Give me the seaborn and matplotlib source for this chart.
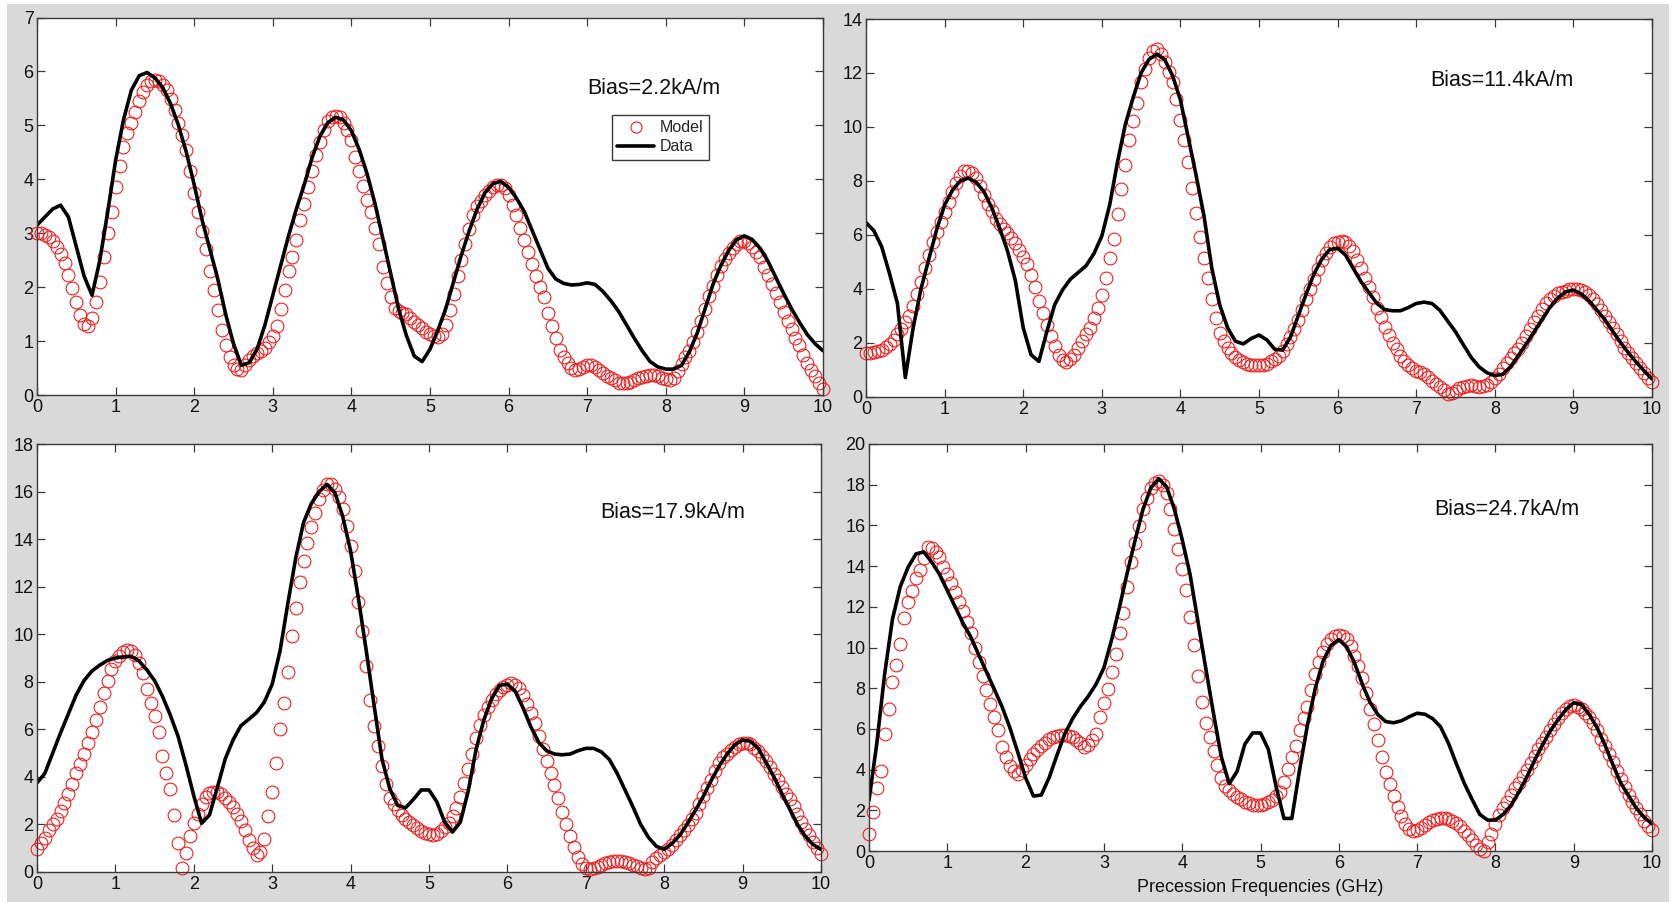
import numpy as np
import matplotlib
matplotlib.use("Agg")
import matplotlib.pyplot as plt
from matplotlib.patches import Rectangle
import seaborn as sns

# ---------------------------------------------------------------------------
# Spectra of the precession response (0-10 GHz) at four bias fields.
# "Data" is sampled every 0.1 GHz, "Model" every 0.05 GHz.
# ---------------------------------------------------------------------------
bias_labels = ["Bias=2.2kA/m", "Bias=11.4kA/m", "Bias=17.9kA/m", "Bias=24.7kA/m"]
y_limits = [7, 14, 18, 20]
y_steps = [1, 2, 2, 2]
x_ticks = [0, 1, 2, 3, 4, 5, 6, 7, 8, 9, 10]
x_label = "Precession Frequencies (GHz)"

data_22 = [3.15, 3.3, 3.45, 3.52, 3.3, 2.75, 2.2, 1.85, 2.5, 3.4,
           4.35, 5.1, 5.65, 5.92, 5.98, 5.88, 5.7, 5.4, 5.0, 4.5,
           3.9, 3.25, 2.7, 2.15, 1.5, 0.95, 0.55, 0.6, 0.85, 1.3,
           1.85, 2.4, 2.95, 3.45, 3.9, 4.4, 4.8, 5.05, 5.15, 5.1,
           4.9, 4.55, 4.1, 3.55, 2.9, 2.25, 1.6, 1.1, 0.72, 0.62,
           0.85, 1.2, 1.6, 2.1, 2.6, 3.05, 3.45, 3.75, 3.92, 3.96,
           3.85, 3.65, 3.4, 3.05, 2.7, 2.35, 2.15, 2.07, 2.04, 2.05,
           2.08, 2.05, 1.92, 1.75, 1.55, 1.3, 1.05, 0.82, 0.62, 0.52,
           0.48, 0.48, 0.55, 0.8, 1.15, 1.6, 2.05, 2.4, 2.68, 2.88,
           2.95, 2.88, 2.72, 2.48, 2.18, 1.88, 1.6, 1.35, 1.12, 0.95,
           0.82]

model_22 = [3.00, 3.00, 2.97, 2.93, 2.85, 2.75, 2.62, 2.44, 2.22, 1.98,
            1.72, 1.48, 1.32, 1.28, 1.42, 1.72, 2.1, 2.55, 3.0, 3.4,
            3.85, 4.25, 4.6, 4.85, 5.05, 5.25, 5.45, 5.62, 5.75, 5.82,
            5.85, 5.82, 5.75, 5.65, 5.48, 5.28, 5.05, 4.82, 4.55, 4.15,
            3.75, 3.4, 3.05, 2.7, 2.3, 1.95, 1.58, 1.2, 0.92, 0.7,
            0.56, 0.48, 0.47, 0.55, 0.65, 0.72, 0.77, 0.82, 0.87, 0.98,
            1.1, 1.28, 1.6, 1.95, 2.3, 2.55, 2.88, 3.25, 3.55, 3.85,
            4.15, 4.45, 4.7, 4.92, 5.08, 5.15, 5.18, 5.15, 5.05, 4.92,
            4.73, 4.42, 4.15, 3.88, 3.62, 3.4, 3.1, 2.8, 2.38, 2.08,
            1.82, 1.62, 1.55, 1.52, 1.5, 1.43, 1.36, 1.3, 1.24, 1.17,
            1.13, 1.09, 1.08, 1.14, 1.3, 1.58, 1.88, 2.2, 2.5, 2.8,
            3.08, 3.33, 3.5, 3.6, 3.7, 3.78, 3.85, 3.9, 3.9, 3.83,
            3.7, 3.52, 3.33, 3.1, 2.88, 2.65, 2.42, 2.2, 2.0, 1.82,
            1.52, 1.28, 1.05, 0.83, 0.7, 0.59, 0.5, 0.46, 0.48, 0.52,
            0.55, 0.56, 0.52, 0.46, 0.41, 0.36, 0.31, 0.27, 0.23, 0.22,
            0.23, 0.25, 0.28, 0.31, 0.34, 0.36, 0.37, 0.37, 0.35, 0.32,
            0.3, 0.28, 0.32, 0.45, 0.58, 0.7, 0.82, 0.98, 1.17, 1.38,
            1.6, 1.83, 2.03, 2.22, 2.4, 2.52, 2.63, 2.72, 2.8, 2.85,
            2.86, 2.82, 2.75, 2.66, 2.55, 2.38, 2.22, 2.05, 1.9, 1.72,
            1.53, 1.37, 1.22, 1.06, 0.92, 0.75, 0.6, 0.47, 0.35, 0.22,
            0.12]

data_114 = [6.45, 6.15, 5.55, 4.55, 3.45, 0.7, 2.55, 4.0, 5.1, 6.2,
            7.1, 7.65, 8.0, 8.1, 7.95, 7.6, 7.0, 6.25, 5.4, 4.3,
            2.55, 1.55, 1.3, 2.4, 3.4, 3.95, 4.35, 4.6, 4.85, 5.3,
            5.95, 7.1, 8.7, 10.1, 11.1, 12.0, 12.5, 12.7, 12.5, 11.9,
            11.0, 9.6, 8.2, 6.7, 4.75, 3.4, 2.55, 2.05, 1.95, 2.15,
            2.28, 2.1, 1.75, 1.72, 2.2, 3.0, 3.8, 4.55, 5.1, 5.45,
            5.5, 5.25, 4.75, 4.25, 3.85, 3.45, 3.22, 3.18, 3.18, 3.3,
            3.45, 3.5, 3.45, 3.2, 2.8, 2.4, 1.92, 1.45, 1.1, 0.88,
            0.78, 0.82, 1.1, 1.52, 1.95, 2.4, 2.85, 3.3, 3.65, 3.88,
            3.95, 3.8, 3.55, 3.2, 2.85, 2.42, 2.0, 1.62, 1.27, 0.95,
            0.65]

model_114 = [1.6, 1.62, 1.64, 1.68, 1.74, 1.83, 1.95, 2.1, 2.3, 2.52,
             2.75, 2.98, 3.35, 3.8, 4.24, 4.75, 5.25, 5.72, 6.1, 6.48,
             6.84, 7.2, 7.58, 7.92, 8.18, 8.35, 8.38, 8.28, 8.1, 7.8,
             7.48, 7.15, 6.88, 6.6, 6.4, 6.22, 6.05, 5.88, 5.68, 5.45,
             5.18, 4.9, 4.5, 4.05, 3.55, 3.1, 2.65, 2.25, 1.89, 1.55,
             1.35, 1.27, 1.38, 1.55, 1.8, 2.05, 2.3, 2.55, 2.9, 3.3,
             3.75, 4.4, 5.15, 5.85, 6.75, 7.7, 8.6, 9.5, 10.2, 10.9,
             11.65, 12.15, 12.55, 12.8, 12.88, 12.7, 12.4, 12.05, 11.66, 11.05,
             10.25, 9.5, 8.69, 7.75, 6.8, 5.92, 5.15, 4.4, 3.6, 2.9,
             2.35, 2.05, 1.8, 1.6, 1.45, 1.35, 1.27, 1.21, 1.18, 1.16,
             1.15, 1.17, 1.22, 1.3, 1.38, 1.5, 1.7, 1.96, 2.2, 2.5,
             2.85, 3.22, 3.6, 3.98, 4.35, 4.72, 5.05, 5.32, 5.55, 5.68,
             5.74, 5.78, 5.74, 5.6, 5.4, 5.08, 4.75, 4.4, 4.05, 3.7,
             3.3, 2.95, 2.58, 2.28, 1.97, 1.75, 1.52, 1.32, 1.15, 1.05,
             0.96, 0.9, 0.84, 0.72, 0.59, 0.47, 0.36, 0.24, 0.1, 0.12,
             0.2, 0.3, 0.36, 0.4, 0.41, 0.38, 0.35, 0.38, 0.42, 0.52,
             0.68, 0.85, 1.05, 1.25, 1.42, 1.6, 1.77, 2.0, 2.26, 2.5,
             2.76, 3.0, 3.25, 3.45, 3.6, 3.72, 3.82, 3.88, 3.93, 3.97,
             3.99, 4.0, 3.95, 3.87, 3.75, 3.62, 3.42, 3.19, 2.98, 2.78,
             2.55, 2.3, 2.05, 1.8, 1.6, 1.42, 1.25, 1.06, 0.88, 0.7,
             0.55]

data_179 = [3.75, 4.15, 5.0, 5.85, 6.65, 7.45, 8.05, 8.45, 8.7, 8.9,
            9.0, 9.05, 9.07, 8.88, 8.5, 8.05, 7.39, 6.6, 5.7, 4.5,
            3.2, 2.05, 2.4, 3.55, 4.75, 5.55, 6.15, 6.42, 6.7, 7.15,
            7.9, 9.3, 11.3, 13.2, 14.7, 15.5, 16.0, 16.3, 15.95, 14.95,
            13.5, 11.5, 9.3, 7.0, 4.75, 3.5, 2.8, 2.7, 3.05, 3.45,
            3.45, 2.95, 2.1, 1.68, 2.1, 3.4, 5.15, 6.4, 7.3, 7.85,
            7.9, 7.6, 6.9, 6.1, 5.45, 5.1, 4.96, 4.93, 4.96, 5.1,
            5.2, 5.2, 5.05, 4.73, 4.15, 3.45, 2.75, 2.0, 1.45, 1.08,
            0.95, 1.2, 1.55, 2.05, 2.6, 3.19, 3.85, 4.45, 4.95, 5.35,
            5.55, 5.5, 5.2, 4.6, 4.0, 3.3, 2.65, 2.0, 1.5, 1.15,
            0.95]

model_179 = [0.95, 1.2, 1.45, 1.75, 2.0, 2.25, 2.55, 2.9, 3.3, 3.72,
             4.15, 4.55, 4.95, 5.42, 5.9, 6.4, 6.92, 7.53, 8.05, 8.55,
             8.88, 9.07, 9.24, 9.34, 9.3, 9.12, 8.8, 8.35, 7.7, 7.1,
             6.55, 5.9, 4.87, 4.17, 3.47, 2.4, 1.23, 0.15, 0.8, 1.5,
             2.05, 2.45, 2.85, 3.15, 3.32, 3.38, 3.38, 3.28, 3.12, 2.95,
             2.72, 2.45, 2.15, 1.75, 1.35, 1.0, 0.7, 0.85, 1.4, 2.35,
             3.35, 4.59, 6.0, 7.11, 8.4, 9.91, 11.1, 12.2, 13.1, 13.85,
             14.53, 15.09, 15.7, 16.07, 16.33, 16.32, 16.1, 15.79, 15.25, 14.55,
             13.7, 12.65, 11.35, 10.15, 8.65, 7.25, 6.15, 5.3, 4.45, 3.7,
             3.1, 2.85, 2.62, 2.4, 2.24, 2.1, 1.98, 1.85, 1.74, 1.64,
             1.58, 1.56, 1.6, 1.72, 1.88, 2.07, 2.35, 2.7, 3.15, 3.75,
             4.35, 4.95, 5.65, 6.18, 6.6, 6.95, 7.25, 7.48, 7.67, 7.8,
             7.88, 7.95, 7.88, 7.72, 7.45, 7.08, 6.67, 6.27, 5.7, 5.18,
             4.68, 4.17, 3.67, 3.1, 2.52, 2.0, 1.52, 1.05, 0.62, 0.35,
             0.18, 0.11, 0.15, 0.22, 0.3, 0.37, 0.42, 0.45, 0.46, 0.45,
             0.42, 0.38, 0.31, 0.24, 0.16, 0.11, 0.15, 0.4, 0.6, 0.72,
             0.83, 0.97, 1.12, 1.33, 1.55, 1.75, 1.97, 2.22, 2.49, 2.85,
             3.19, 3.55, 3.89, 4.25, 4.59, 4.82, 4.98, 5.13, 5.27, 5.37,
             5.42, 5.42, 5.37, 5.22, 5.08, 4.88, 4.68, 4.42, 4.14, 3.85,
             3.57, 3.3, 3.05, 2.78, 2.42, 2.1, 1.82, 1.55, 1.25, 1.0,
             0.74]

data_247 = [2.5, 5.3, 8.7, 11.4, 13.0, 13.95, 14.6, 14.7, 14.2, 13.6,
            12.8, 12.0, 11.2, 10.52, 9.65, 8.8, 7.95, 7.08, 6.05, 4.85,
            3.6, 2.7, 2.75, 3.6, 4.7, 5.75, 6.5, 7.1, 7.6, 8.2,
            9.0, 10.4, 12.0, 13.7, 15.3, 16.8, 17.85, 18.3, 17.9, 16.8,
            15.3, 13.6, 11.3, 9.0, 6.75, 4.62, 3.31, 3.9, 5.25, 5.8,
            5.8, 5.0, 3.15, 1.6, 1.6, 4.0, 6.2, 8.0, 9.35, 10.1,
            10.39, 10.03, 9.25, 8.2, 7.3, 6.7, 6.36, 6.3, 6.4, 6.6,
            6.77, 6.72, 6.5, 6.1, 5.3, 4.3, 3.35, 2.55, 1.8, 1.52,
            1.52, 1.8, 2.25, 2.9, 3.62, 4.45, 5.2, 5.9, 6.45, 6.95,
            7.28, 7.2, 6.7, 6.05, 5.2, 4.25, 3.35, 2.72, 2.1, 1.65,
            1.34]

model_247 = [0.85, 1.9, 3.1, 3.95, 5.77, 7.0, 8.3, 9.15, 10.15, 11.45,
             12.25, 12.8, 13.4, 13.8, 14.4, 14.92, 14.88, 14.7, 14.46, 13.97,
             13.62, 13.15, 12.72, 12.25, 11.78, 11.25, 10.69, 10.0, 9.3, 8.6,
             7.9, 7.2, 6.58, 5.95, 5.11, 4.6, 4.2, 3.94, 3.8, 4.0,
             4.25, 4.5, 4.75, 4.95, 5.15, 5.3, 5.48, 5.58, 5.65, 5.69,
             5.68, 5.65, 5.6, 5.45, 5.3, 5.12, 5.2, 5.45, 5.77, 6.59,
             7.25, 7.95, 8.8, 9.7, 10.7, 11.7, 12.95, 14.2, 15.15, 15.95,
             16.8, 17.35, 17.82, 18.1, 18.2, 17.98, 17.6, 16.8, 15.8, 14.85,
             13.85, 12.85, 11.5, 10.1, 8.6, 7.3, 6.3, 5.6, 4.9, 4.25,
             3.6, 3.2, 2.98, 2.82, 2.66, 2.55, 2.43, 2.34, 2.27, 2.24,
             2.24, 2.3, 2.4, 2.52, 2.7, 2.92, 3.4, 4.05, 4.6, 5.18,
             5.95, 6.55, 7.1, 7.9, 8.7, 9.28, 9.78, 10.15, 10.4, 10.55,
             10.6, 10.58, 10.44, 10.05, 9.6, 9.1, 8.5, 7.75, 7.0, 6.25,
             5.45, 4.6, 3.9, 3.31, 2.72, 2.15, 1.7, 1.34, 1.1, 1.0,
             1.02, 1.15, 1.28, 1.41, 1.5, 1.57, 1.6, 1.6, 1.55, 1.46,
             1.36, 1.22, 1.0, 0.78, 0.52, 0.28, 0.1, 0.02, 0.45, 0.85,
             1.35, 1.75, 2.1, 2.42, 2.75, 3.08, 3.36, 3.68, 4.0, 4.33,
             4.66, 4.99, 5.3, 5.62, 5.95, 6.25, 6.55, 6.8, 7.0, 7.12,
             7.16, 7.1, 7.0, 6.8, 6.59, 6.28, 5.93, 5.52, 5.15, 4.75,
             4.35, 3.95, 3.55, 3.15, 2.75, 2.4, 2.1, 1.8, 1.47, 1.22,
             1.05]

data_series = [data_22, data_114, data_179, data_247]
model_series = [model_22, model_114, model_179, model_247]

# ---------------------------------------------------------------------------
# Styling
# ---------------------------------------------------------------------------
sns.set_style("ticks")
plt.rcParams["font.family"] = ["Liberation Sans", "DejaVu Sans"]

W, H = 1677, 902
fig = plt.figure(figsize=(W / 100, H / 100), dpi=100)
fig.patch.set_facecolor("white")

# grey window background behind the four panels
fig.add_artist(Rectangle((7 / W, 0), (1669 - 7) / W, (H - 4) / H,
                         transform=fig.transFigure, facecolor="#d9d9d9",
                         edgecolor="none", zorder=-5))

# panel boxes in pixels: (left, top, right, bottom)
boxes = [(37, 17.5, 823, 395),
         (866, 19, 1652, 396.5),
         (37, 444, 821, 872),
         (869, 444, 1652, 851)]

# annotation anchor (axes fraction)
text_pos = [(0.785, 0.813), (0.809, 0.838), (0.811, 0.841), (0.815, 0.840)]

spine_col = "#3a3a3a"

for i, (l, t, r, b) in enumerate(boxes):
    ax = fig.add_axes([l / W, 1 - b / H, (r - l) / W, (b - t) / H])
    ax.set_facecolor("white")

    data = np.asarray(data_series[i])
    model = np.asarray(model_series[i])
    x_data = np.linspace(0, 10, len(data))
    x_model = np.linspace(0, 10, len(model))

    sns.lineplot(x=x_model, y=model, ax=ax, estimator=None, sort=False,
                 color="red", linestyle="none", marker="o", markersize=9.2,
                 markerfacecolor="none", markeredgecolor="#ef1f1f",
                 markeredgewidth=0.8, clip_on=False,
                 label="Model" if i == 0 else None)
    sns.lineplot(x=x_data, y=data, ax=ax, estimator=None, sort=False,
                 color="black", linewidth=2.6, solid_joinstyle="round",
                 label="Data" if i == 0 else None)

    ax.set_xlim(0, 10)
    ax.set_ylim(0, y_limits[i])
    ax.set_xticks(x_ticks)
    ax.set_yticks(np.arange(0, y_limits[i] + 0.01, y_steps[i]))
    ax.set_xticklabels([str(v) for v in x_ticks])
    ax.set_yticklabels([str(int(v)) for v in ax.get_yticks()])
    ax.set_xlabel("")
    ax.set_ylabel("")

    for sp in ax.spines.values():
        sp.set_visible(True)
        sp.set_color(spine_col)
        sp.set_linewidth(1.0)
    ax.tick_params(axis="both", which="major", direction="in", length=5.5,
                   width=0.9, color=spine_col, labelcolor="#111111",
                   labelsize=13, top=True, right=True)
    ax.tick_params(axis="x", pad=3)
    ax.tick_params(axis="y", pad=2.5)

    ax.text(text_pos[i][0], text_pos[i][1], bias_labels[i],
            transform=ax.transAxes, ha="center", va="center",
            fontsize=15.5, color="#111111")

    if i == 0:
        leg = ax.legend(loc="upper right", bbox_to_anchor=(0.855, 0.742),
                        fontsize=11.5, frameon=True, fancybox=False,
                        framealpha=1, edgecolor=spine_col, handlelength=2.3,
                        handletextpad=0.35, borderpad=0.35, labelspacing=0.25,
                        borderaxespad=0)
        leg.get_frame().set_linewidth(1.0)
        for h in leg.get_lines():
            if h.get_marker() == "o":
                h.set_markersize(8)
    else:
        if ax.get_legend() is not None:
            ax.get_legend().remove()

    if i == 3:
        ax.set_xlabel(x_label, fontsize=13, labelpad=5, color="#111111")

fig.savefig("out.png", dpi=100, facecolor=fig.get_facecolor())
